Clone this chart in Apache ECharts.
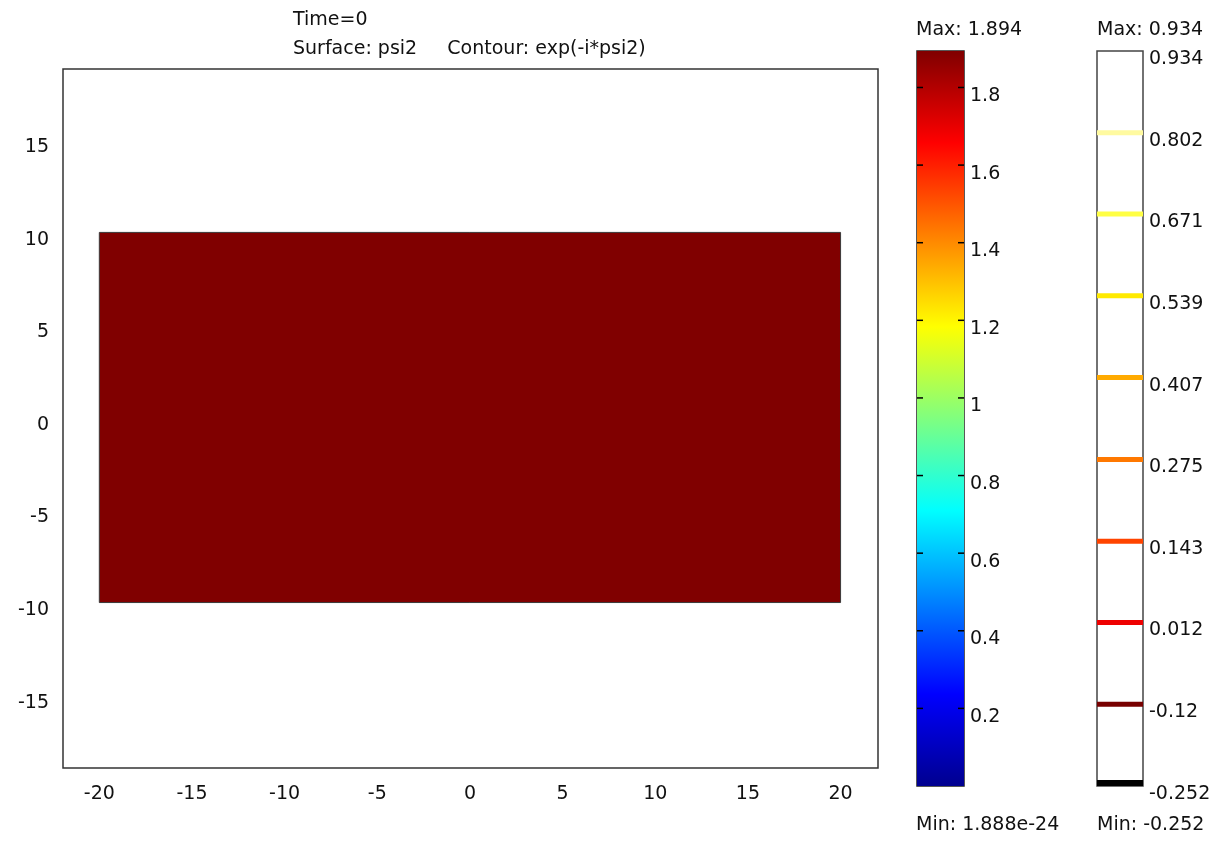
<!DOCTYPE html>
<html>
<head>
<meta charset="utf-8">
<script src="https://cdn.jsdelivr.net/npm/echarts@6/dist/echarts.min.js"></script>
<style>
html,body{margin:0;padding:0;background:#fff;}
#main{width:1221px;height:843px;}
</style>
</head>
<body>
<div id="main"></div>
<script>
// ---- data ----
const titleLines = ['Time=0', 'Surface: psi2', 'Contour: exp(-i*psi2)'];
const rectX = [-20, 20];
const rectY = [-10, 10];
const xTicks = [-20, -15, -10, -5, 0, 5, 10, 15, 20];
const yTicks = [-15, -10, -5, 0, 5, 10, 15];
const surfaceRange = [1.888e-24, 1.894];
const surfaceMinLabel = '1.888e-24';
const surfaceTicks = [0.2, 0.4, 0.6, 0.8, 1, 1.2, 1.4, 1.6, 1.8];
const contourRange = [-0.252, 0.934];
const contourLevels = [0.934, 0.802, 0.671, 0.539, 0.407, 0.275, 0.143, 0.012, -0.12, -0.252];

// ---- styles ----
const contourPalette = ['rgba(255,255,255,0)', '#fffaa0', '#ffff44', '#ffea00', '#ffaa00', '#ff7800', '#ff4400', '#ee0000', '#780000', '#000000'];
const jetStops = [
  [0, '#00008f'], [0.125, '#0000ff'], [0.375, '#00ffff'],
  [0.625, '#ffff00'], [0.875, '#ff0000'], [1, '#800000']
];
const FONT = 'DejaVu Sans';
const FS = 19;
const TXT = '#111';

const chart = echarts.init(document.getElementById('main'), null, {renderer: 'canvas'});

const gradient = new echarts.graphic.LinearGradient(0, 1, 0, 0,
  jetStops.map(s => ({offset: s[0], color: s[1]})));

const tStyle = {fontFamily: FONT, fontSize: FS, fontWeight: 'normal', color: TXT};

const option = {
  animation: false,
  backgroundColor: '#fff',
  textStyle: {fontFamily: FONT},
  title: [
    {
      text: titleLines[0] + '\n' + titleLines[1] + '     ' + titleLines[2],
      left: 288, top: 1,
      textStyle: Object.assign({}, tStyle, {lineHeight: 29})
    },
    {text: 'Max: ' + surfaceRange[1], left: 911, top: 16, textStyle: tStyle},
    {text: 'Max: ' + contourRange[1], left: 1092, top: 16, textStyle: tStyle},
    {text: 'Min: ' + surfaceMinLabel, left: 911, top: 811, textStyle: tStyle},
    {text: 'Min: ' + contourRange[0], left: 1092, top: 811, textStyle: tStyle}
  ],
  grid: [
    {left: 63, top: 69, width: 815, height: 699, show: true, borderColor: '#333', borderWidth: 1.5, containLabel: false},
    {left: 917, top: 51, width: 47, height: 735, show: true, borderColor: '#222', borderWidth: 1.5, containLabel: false},
    {left: 1097, top: 51, width: 46, height: 735, show: true, borderColor: '#444', borderWidth: 1.5, containLabel: false}
  ],
  xAxis: [
    {
      gridIndex: 0, type: 'value', min: -21.96, max: 22.02,
      axisLine: {show: false}, axisTick: {show: false}, splitLine: {show: false},
      axisLabel: {customValues: xTicks, margin: 17, fontFamily: FONT, fontSize: FS, color: TXT}
    },
    {gridIndex: 1, type: 'value', min: 0, max: 1, show: false},
    {gridIndex: 2, type: 'value', min: 0, max: 1, show: false}
  ],
  yAxis: [
    {
      gridIndex: 0, type: 'value', min: -18.94, max: 18.83,
      axisLine: {show: false}, axisTick: {show: false}, splitLine: {show: false},
      axisLabel: {customValues: yTicks, margin: 14, fontFamily: FONT, fontSize: FS, color: TXT,
        verticalAlign: 'top', lineHeight: 15}
    },
    {
      gridIndex: 1, type: 'value', position: 'right', min: surfaceRange[0], max: surfaceRange[1],
      axisLine: {show: false}, splitLine: {show: false}, axisTick: {show: false},
      axisLabel: {customValues: surfaceTicks, margin: 6, fontFamily: FONT, fontSize: FS, color: TXT,
        verticalAlign: 'top', lineHeight: 17}
    },
    {
      gridIndex: 2, type: 'value', position: 'right', min: contourRange[0], max: contourRange[1],
      axisLine: {show: false}, splitLine: {show: false}, axisTick: {show: false},
      axisLabel: {customValues: contourLevels, margin: 6, fontFamily: FONT, fontSize: FS, color: TXT,
        verticalAlign: 'top', lineHeight: 16, formatter: v => String(v)}
    }
  ],
  series: [
    {
      type: 'custom', xAxisIndex: 0, yAxisIndex: 0, clip: true,
      data: [[rectX[0], rectY[0], rectX[1], rectY[1]]],
      renderItem: (params, api) => {
        const p0 = api.coord([api.value(0), api.value(3)]);
        const p1 = api.coord([api.value(2), api.value(1)]);
        return {type: 'rect', shape: {x: p0[0], y: p0[1], width: p1[0] - p0[0], height: p1[1] - p0[1]},
          style: {fill: jetStops[jetStops.length - 1][1], stroke: '#3a3a3a', lineWidth: 1}};
      }
    },
    {
      type: 'custom', xAxisIndex: 1, yAxisIndex: 1, clip: true, z: 1,
      data: [[0, surfaceRange[0], 1, surfaceRange[1]]],
      renderItem: (params, api) => {
        const p0 = api.coord([api.value(0), api.value(3)]);
        const p1 = api.coord([api.value(2), api.value(1)]);
        return {type: 'rect', shape: {x: p0[0], y: p0[1], width: p1[0] - p0[0], height: p1[1] - p0[1]},
          style: {fill: gradient}};
      }
    },
    {
      type: 'custom', xAxisIndex: 1, yAxisIndex: 1, clip: false, z: 5,
      data: surfaceTicks.map(v => [v]),
      renderItem: (params, api) => {
        const a = api.coord([0, api.value(0)]);
        const b = api.coord([1, api.value(0)]);
        const len = 6;
        const st = {stroke: '#000', lineWidth: 1.5};
        return {type: 'group', children: [
          {type: 'line', shape: {x1: a[0], y1: a[1], x2: a[0] + len, y2: a[1]}, style: st},
          {type: 'line', shape: {x1: b[0] - len, y1: b[1], x2: b[0], y2: b[1]}, style: st}
        ]};
      }
    },
    {
      type: 'custom', xAxisIndex: 2, yAxisIndex: 2, clip: true,
      data: contourLevels.map((v, i) => [v, i]),
      renderItem: (params, api) => {
        const lv = api.value(0);
        const idx = api.value(1);
        const a = api.coord([0, lv]);
        const b = api.coord([1, lv]);
        const h = idx === contourLevels.length - 1 ? 12 : 5;
        return {type: 'rect', shape: {x: a[0], y: a[1] - h / 2, width: b[0] - a[0], height: h},
          style: {fill: contourPalette[idx]}};
      }
    }
  ]
};
chart.setOption(option);
</script>
</body>
</html>
